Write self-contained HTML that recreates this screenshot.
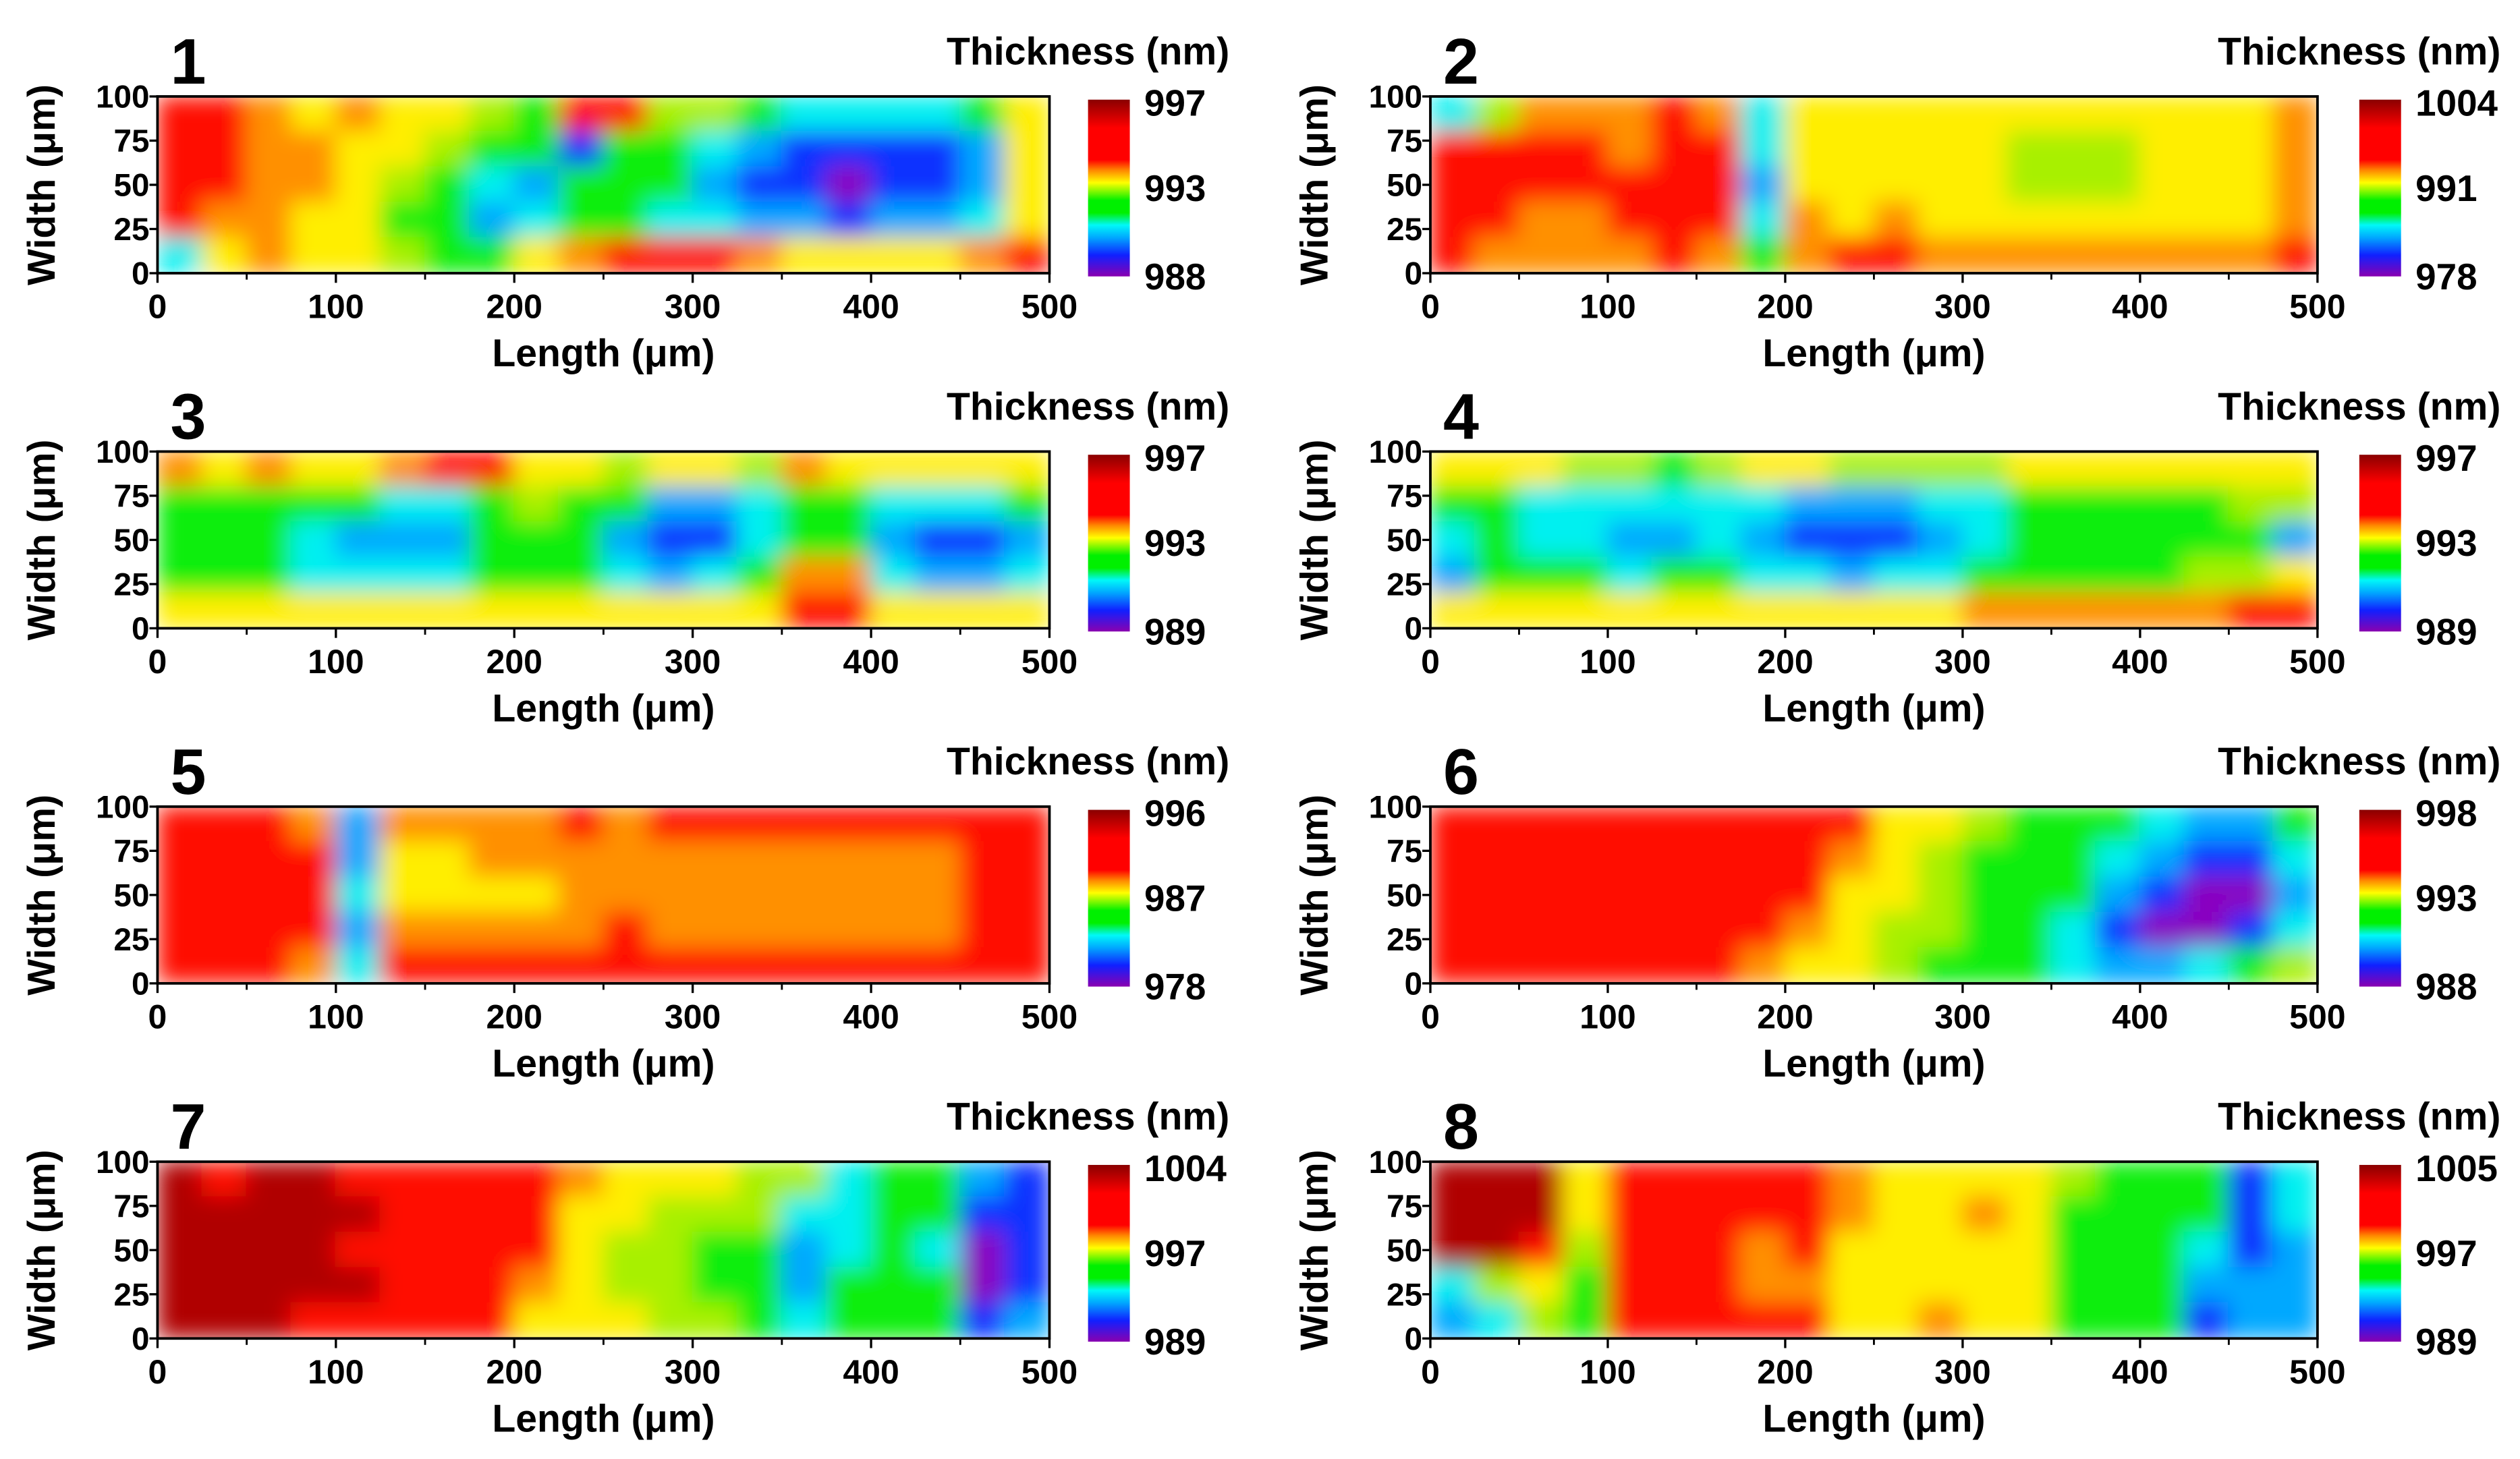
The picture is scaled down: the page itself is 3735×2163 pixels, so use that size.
<!DOCTYPE html>
<html><head><meta charset="utf-8">
<style>
html,body{margin:0;padding:0;background:#fff;}
svg{display:block;}
text{font-family:"Liberation Sans",sans-serif;font-weight:bold;fill:#000;}
</style></head>
<body>
<svg id="fig" width="3735" height="2163" viewBox="0 0 1568 908" xmlns="http://www.w3.org/2000/svg">
<defs>
<filter id="blur" x="0" y="0" width="1" height="1"><feGaussianBlur stdDeviation="7" edgeMode="duplicate"/></filter>
<linearGradient id="cmap" x1="0" y1="1" x2="0" y2="0">
<stop offset="0" stop-color="#8a00b0"/>
<stop offset="0.12" stop-color="#1020ff"/>
<stop offset="0.22" stop-color="#00a8ff"/>
<stop offset="0.29" stop-color="#00f8f8"/>
<stop offset="0.36" stop-color="#00f000"/>
<stop offset="0.43" stop-color="#00f000"/>
<stop offset="0.53" stop-color="#ffff00"/>
<stop offset="0.6" stop-color="#ff8800"/>
<stop offset="0.66" stop-color="#ff0000"/>
<stop offset="0.84" stop-color="#ff0000"/>
<stop offset="1" stop-color="#8a0000"/>
</linearGradient>
</defs>
</svg>
<script>
// Colour levels (0 = min … 9 = max), rows top (100 µm) → bottom (0 µm), 25 µm columns
const map1=[[8,8,7,6,7,6,6,5,4,8,8,5,5,4,3,3,3,3,4,6],[8,8,7,7,6,6,5,4,4,1,4,4,3,2,1,1,1,1,2,6],[8,8,7,7,6,5,4,3,2,4,4,4,2,1,1,0,1,1,2,6],[8,7,7,6,6,4,4,2,3,4,4,3,3,2,2,1,2,2,3,6],[3,6,7,6,6,5,4,4,6,7,8,8,8,7,6,6,6,6,7,8]];
const map2=[[3,5,7,7,7,8,7,3,6,6,6,6,6,6,6,6,6,6,6,7],[8,8,8,8,7,8,8,3,6,6,6,6,6,5,5,5,6,6,6,7],[8,8,8,8,8,8,8,2,6,6,6,6,6,5,5,5,6,6,6,7],[8,8,7,7,8,8,8,3,7,6,7,6,6,6,6,6,6,6,6,7],[8,7,7,7,7,8,7,4,7,8,8,7,7,7,7,7,7,7,7,8]];
const map3=[[7,6,7,6,6,7,8,8,6,6,5,6,6,5,7,6,6,6,6,6],[4,4,4,4,4,3,3,4,5,4,4,2,2,3,4,4,3,3,3,4],[4,4,4,3,2,2,2,4,4,4,2,1,1,3,4,4,2,1,1,2],[4,4,4,3,3,3,3,4,4,4,3,2,3,4,7,7,3,2,2,3],[6,6,6,6,6,6,6,6,6,6,6,6,6,6,8,8,6,6,6,6]];
const map4=[[6,6,6,5,5,4,5,6,6,5,5,5,5,6,6,6,6,6,6,6],[4,4,3,3,3,3,3,3,2,2,2,3,3,4,4,4,4,4,5,5],[3,4,3,3,2,2,3,2,1,1,1,2,3,4,4,4,4,4,4,2],[2,4,4,4,3,4,4,3,3,2,3,3,4,4,4,4,4,5,5,6],[6,6,6,6,6,6,6,6,6,6,6,6,7,7,7,7,7,7,8,8]];
const map5=[[8,8,8,7,2,7,7,7,7,8,7,8,8,8,8,8,8,8,8,8],[8,8,8,8,2,6,6,7,7,7,7,7,7,7,7,7,7,7,8,8],[8,8,8,8,3,6,6,6,6,7,7,7,7,7,7,7,7,7,8,8],[8,8,8,8,2,7,7,7,7,7,8,7,7,7,7,7,7,7,8,8],[8,8,8,7,3,8,8,8,8,8,8,8,8,8,8,8,8,8,8,8]];
const map6=[[8,8,8,8,8,8,8,8,8,8,6,6,5,4,4,4,3,2,2,4],[8,8,8,8,8,8,8,8,8,7,6,5,4,4,4,3,2,1,1,3],[8,8,8,8,8,8,8,8,8,6,6,5,4,4,4,2,1,0,0,2],[8,8,8,8,8,8,8,8,7,6,5,5,4,4,3,1,0,0,1,3],[8,8,8,8,8,8,8,7,6,6,5,4,4,4,3,2,2,3,4,5]];
const map7=[[9,8,9,9,8,8,8,8,8,7,6,6,6,5,5,3,4,4,2,1],[9,9,9,9,9,8,8,8,8,6,6,5,5,5,3,3,4,4,1,1],[9,9,9,9,8,8,8,8,8,6,5,5,4,4,2,3,4,3,0,1],[9,9,9,9,9,8,8,8,7,6,5,5,4,4,2,4,4,4,0,1],[9,9,9,8,8,8,8,8,6,6,6,5,5,4,3,4,4,4,1,2]];
const map8=[[9,9,9,6,8,8,8,8,8,7,6,6,6,6,5,4,4,4,1,3],[9,9,9,6,8,8,8,8,8,7,6,6,7,6,4,4,4,4,1,3],[9,9,8,5,8,8,8,7,8,6,6,6,6,6,4,4,4,3,1,2],[3,5,6,4,8,8,8,7,7,6,6,6,6,6,4,4,4,2,2,2],[2,3,5,4,8,8,8,8,8,6,6,7,6,6,4,4,4,1,2,2]];
const maps=[map1,map2,map3,map4,map5,map6,map7,map8];
const cbarLabels=[["997","993","988"],["1004","991","978"],["997","993","989"],["997","993","989"],["996","987","978"],["998","993","988"],["1004","997","989"],["1005","997","989"]];
const xTicks=[0,100,200,300,400,500];
const yTicks=[0,25,50,75,100];
const levelColors=["#8a00c0","#1030ff","#00a8ff","#00f0f0","#10ee10","#a8f000","#ffee00","#ff9000","#ff1000","#b00000"];

const NS="http://www.w3.org/2000/svg";
const svg=document.getElementById('fig');
function mk(tag,attrs,parent){const e=document.createElementNS(NS,tag);for(const k in attrs)e.setAttribute(k,attrs[k]);(parent||svg).appendChild(e);return e;}
function txt(s,attrs,parent){const e=mk('text',attrs,parent);e.textContent=s;return e;}

const colX=[[98,653,677],[890,1442,1468]];
const rowY=[60,281,502,723];
const PH=110;
maps.forEach((m,i)=>{
  const c=i%2,r=Math.floor(i/2);
  const x0=colX[c][0],x1=colX[c][1],y0=rowY[r],cb=colX[c][2];
  const g=mk('g',{});
  
  
  const xs=v=>x0+(v/500)*(x1-x0);
  const ys=v=>y0+PH-(v/100)*PH;
  const cp=mk('clipPath',{id:'cp'+i},g);
  mk('rect',{x:x0,y:y0,width:x1-x0,height:PH},cp);
  const hm=mk('g',{'clip-path':'url(#cp'+i+')'},g);
  
  
  const inner=mk('g',{filter:'url(#blur)'},hm);
  const nr=m.length,nc=m[0].length;
  m.forEach((row,ri)=>row.forEach((v,ci)=>{
    const cell=mk('rect',{x:xs(ci*500/nc)-0.5,y:ys(100-ri*100/nr)-0.5,width:(x1-x0)/nc+1,height:PH/nr+1,fill:levelColors[v]},inner);
    
    
  }));
  mk('rect',{x:x0,y:y0,width:x1-x0,height:PH,fill:'none',stroke:'#000','stroke-width':1.6},g);
  xTicks.forEach(t=>{
    mk('line',{x1:xs(t),x2:xs(t),y1:y0+PH,y2:y0+PH+6,stroke:'#000','stroke-width':1.4},g);
    if(t<500) mk('line',{x1:xs(t+50),x2:xs(t+50),y1:y0+PH,y2:y0+PH+4,stroke:'#000','stroke-width':1.2},g);
    const l=txt(String(t),{x:xs(t),y:y0+PH+28,'text-anchor':'middle','font-size':21},g);
    
    
  });
  yTicks.forEach(t=>{
    mk('line',{x1:x0-5,x2:x0,y1:ys(t),y2:ys(t),stroke:'#000','stroke-width':1.4},g);
    const l=txt(String(t),{x:x0-5,y:ys(t)+7,'text-anchor':'end','font-size':20},g);
    
    
  });
  const xl=txt('Length (\u03bcm)',{x:(x0+x1)/2,y:y0+PH+58,'text-anchor':'middle','font-size':24},g);
  
  
  const yl=txt('Width (\u03bcm)',{x:0,y:0,'text-anchor':'middle','font-size':24,transform:`translate(${x0-64},${y0+PH/2}) rotate(-90)`},g);
  
  
  const pn=txt(String(i+1),{x:x0+8,y:y0-8,'font-size':40},g);
  
  
  const th=txt('Thickness (nm)',{x:cb+88,y:y0-20,'text-anchor':'end','font-size':24},g);
  
  
  const bar=mk('rect',{x:cb,y:y0+2,width:26,height:PH,fill:'url(#cmap)'},g);
  
  
  const lab=cbarLabels[i];
  [[lab[0],y0+12],[lab[1],y0+65],[lab[2],y0+120]].forEach(([s,yy])=>{
    const l=txt(s,{x:cb+35,y:yy,'font-size':23},g);
    
    
  });
});
</script>
</body></html>
